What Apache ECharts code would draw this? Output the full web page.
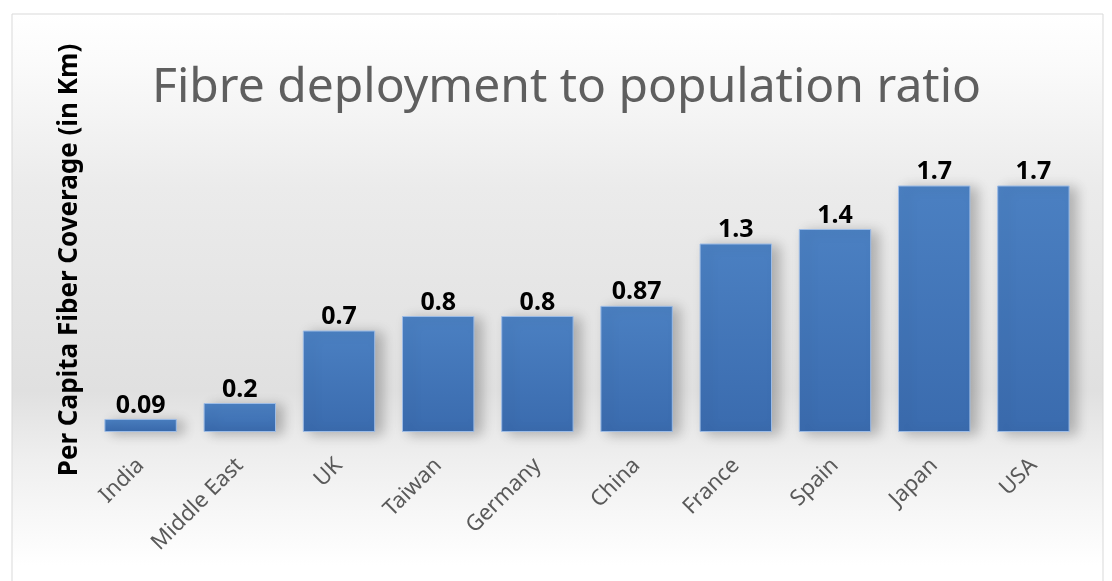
<!DOCTYPE html>
<html>
<head>
<meta charset="utf-8">
<script src="https://cdn.jsdelivr.net/npm/echarts@6/dist/echarts.min.js"></script>
<style>
  html, body { margin: 0; padding: 0; background: #ffffff; }
  #chart { width: 1112px; height: 581px; }
</style>
</head>
<body>
<div id="chart"></div>
<script>
// Per capita fibre coverage (km) by country/region
const categories = ['India', 'Middle East', 'UK', 'Taiwan', 'Germany', 'China', 'France', 'Spain', 'Japan', 'USA'];
const coverage = [0.09, 0.2, 0.7, 0.8, 0.8, 0.87, 1.3, 1.4, 1.7, 1.7];
const titleText = 'Fibre deployment to population ratio';
const yAxisTitle = 'Per Capita Fiber Coverage (in Km)';

const chart = echarts.init(document.getElementById('chart'), null, { renderer: 'canvas' });

const option = {
  backgroundColor: '#ffffff',
  animation: false,
  graphic: [
    {
      type: 'rect',
      z: -10,
      shape: { x: 12, y: 14, width: 1091, height: 580 },
      style: {
        stroke: '#d9d9d9',
        lineWidth: 1,
        fill: {
          type: 'linear', x: 0, y: 0, x2: 0, y2: 1,
          colorStops: [
            { offset: 0.0, color: '#ffffff' },
            { offset: 0.08, color: '#fbfbfb' },
            { offset: 0.3, color: '#ebebeb' },
            { offset: 0.65, color: '#e0e0e0' },
            { offset: 0.76, color: '#eeeeee' },
            { offset: 0.95, color: '#ffffff' },
            { offset: 1.0, color: '#ffffff' }
          ]
        }
      }
    },
    {
      type: 'text',
      x: 70,
      y: 260,
      rotation: Math.PI / 2,
      style: {
        text: yAxisTitle,
        fontFamily: 'Noto Sans',
        fontWeight: 'bold',
        fontSize: 26,
        fill: '#000000',
        textAlign: 'center',
        textVerticalAlign: 'middle'
      }
    }
  ],
  title: {
    text: titleText,
    left: 147,
    top: 59,
    textStyle: {
      fontFamily: 'Noto Sans',
      fontWeight: 'normal',
      fontSize: 48,
      color: '#5f5f5f'
    }
  },
  grid: {
    left: 91,
    right: 29,
    top: 142,
    bottom: 149,
    containLabel: false
  },
  xAxis: {
    type: 'category',
    data: categories,
    axisLine: { show: false },
    axisTick: { show: false },
    axisLabel: {
      rotate: 45,
      margin: 30,
      fontFamily: 'Noto Sans',
      fontSize: 22,
      color: '#595959'
    }
  },
  yAxis: {
    type: 'value',
    min: 0,
    max: 2,
    show: false,
    splitLine: { show: false }
  },
  series: [
    {
      type: 'bar',
      data: coverage,
      barCategoryGap: '27%',
      itemStyle: {
        color: {
          type: 'linear', x: 0, y: 0, x2: 0, y2: 1,
          colorStops: [
            { offset: 0, color: '#4b80c2' },
            { offset: 1, color: '#3a6bae' }
          ]
        },
        borderColor: '#9dbce6',
        borderWidth: 1,
        shadowBlur: 12,
        shadowOffsetX: 7,
        shadowOffsetY: 2,
        shadowColor: 'rgba(0,0,0,0.25)'
      },
      label: {
        show: true,
        position: 'top',
        distance: 1,
        fontFamily: 'Noto Sans',
        fontWeight: 'bold',
        fontSize: 25,
        color: '#000000'
      }
    }
  ]
};

chart.setOption(option);
</script>
</body>
</html>
